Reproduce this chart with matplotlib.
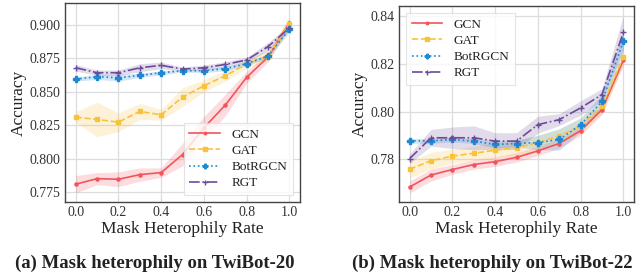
import matplotlib
matplotlib.use("Agg")
import matplotlib.pyplot as plt
import numpy as np

plt.rcParams.update({
    "font.family": ["Liberation Serif", "DejaVu Serif"],
    "axes.edgecolor": "#444444",
    "axes.linewidth": 1.0,
    "xtick.color": "#333333",
    "ytick.color": "#333333",
    "text.color": "#222222",
    "axes.labelcolor": "#222222",
})

rates = [0.0, 0.1, 0.2, 0.3, 0.4, 0.5, 0.6, 0.7, 0.8, 0.9, 1.0]
models = ["GCN", "GAT", "BotRGCN", "RGT"]

# TwiBot-20
t20_gcn = [0.7808, 0.7850, 0.7845, 0.7880, 0.7895, 0.8030, 0.8230, 0.8400, 0.8608, 0.8760, 0.9018]
t20_gat = [0.8310, 0.8293, 0.8273, 0.8353, 0.8328, 0.8460, 0.8545, 0.8620, 0.8708, 0.8770, 0.9008]
t20_bot = [0.8595, 0.8613, 0.8605, 0.8623, 0.8643, 0.8658, 0.8658, 0.8673, 0.8710, 0.8768, 0.8968]
t20_rgt = [0.8680, 0.8643, 0.8643, 0.8680, 0.8698, 0.8670, 0.8680, 0.8705, 0.8738, 0.8838, 0.8978]
t20_gcn_sd = [0.0065, 0.0045, 0.0055, 0.0050, 0.0035, 0.0085, 0.0085, 0.0080, 0.0045, 0.0035, 0.0030]
t20_gat_sd = [0.0040, 0.0130, 0.0070, 0.0060, 0.0040, 0.0070, 0.0045, 0.0040, 0.0030, 0.0040, 0.0050]
t20_bot_sd = [0.0015, 0.0020, 0.0025, 0.0015, 0.0015, 0.0010, 0.0015, 0.0015, 0.0015, 0.0015, 0.0020]
t20_rgt_sd = [0.0025, 0.0020, 0.0020, 0.0030, 0.0025, 0.0015, 0.0020, 0.0020, 0.0020, 0.0030, 0.0020]

# TwiBot-22
t22_gcn = [0.7684, 0.7734, 0.7757, 0.7778, 0.7790, 0.7808, 0.7835, 0.7866, 0.7920, 0.8008, 0.8215]
t22_gat = [0.7758, 0.7794, 0.7813, 0.7825, 0.7838, 0.7848, 0.7870, 0.7897, 0.7940, 0.8022, 0.8228]
t22_bot = [0.7877, 0.7877, 0.7883, 0.7876, 0.7862, 0.7866, 0.7870, 0.7883, 0.7944, 0.8042, 0.8294]
t22_rgt = [0.7803, 0.7890, 0.7890, 0.7890, 0.7876, 0.7876, 0.7945, 0.7966, 0.8015, 0.8071, 0.8331]
t22_gcn_sd = [0.0025, 0.0025, 0.0020, 0.0020, 0.0020, 0.0020, 0.0020, 0.0020, 0.0020, 0.0020, 0.0020]
t22_gat_sd = [0.0035, 0.0035, 0.0030, 0.0030, 0.0030, 0.0030, 0.0030, 0.0030, 0.0030, 0.0030, 0.0030]
t22_bot_sd = [0.0010, 0.0010, 0.0010, 0.0010, 0.0015, 0.0015, 0.0030, 0.0045, 0.0030, 0.0030, 0.0040]
t22_rgt_sd = [0.0020, 0.0035, 0.0045, 0.0050, 0.0035, 0.0035, 0.0035, 0.0025, 0.0030, 0.0025, 0.0070]

colors = ["#F2545B", "#F9C23C", "#1F88D2", "#6B4C9A"]
styles = ["-", "--", ":", "-."]
markers = [".", "s", "P", "+"]
msizes = [4.5, 3.2, 4.2, 4.5]

W, H = 644, 273
fig = plt.figure(figsize=(W / 100, H / 100), dpi=100)


def panel(rect, means, sds, ylim, yticks, yfmt, legloc):
    ax = fig.add_axes(rect)
    ax.grid(True, color="#DDDDDD", linewidth=0.9)
    ax.set_axisbelow(True)
    for m, s, c, ls, mk, ms, name in zip(means, sds, colors, styles, markers, msizes, models):
        m = np.array(m)
        s = np.array(s)
        ax.fill_between(rates, m - s, m + s, color=c, alpha=0.2, linewidth=0)
        ax.plot(rates, m, color=c, ls=ls, marker=mk, ms=ms, lw=1.2, label=name)
    ax.set_xlim(-0.05, 1.05)
    ax.set_ylim(*ylim)
    ax.set_xticks([0.0, 0.2, 0.4, 0.6, 0.8, 1.0])
    ax.set_yticks(yticks)
    ax.set_yticklabels([yfmt.format(v) for v in yticks])
    ax.tick_params(labelsize=10, length=0, pad=3)
    ax.set_xlabel("Mask Heterophily Rate", fontsize=12.5, labelpad=1)
    ax.set_ylabel("Accuracy", fontsize=12.5, labelpad=2)
    leg = ax.legend(loc=legloc, fontsize=9.5, frameon=True, handlelength=2.3,
                    handletextpad=0.9, borderpad=0.45, labelspacing=0.3,
                    fancybox=False, markerscale=0.8)
    leg.get_frame().set_edgecolor("#DDDDDD")
    leg.get_frame().set_linewidth(0.8)
    return ax


panel([65 / W, 1 - 202 / H, 235 / W, 199 / H],
      [t20_gcn, t20_gat, t20_bot, t20_rgt],
      [t20_gcn_sd, t20_gat_sd, t20_bot_sd, t20_rgt_sd],
      (0.7675, 0.9165), [0.775, 0.800, 0.825, 0.850, 0.875, 0.900], "{:.3f}",
      "lower right")
panel([399 / W, 1 - 202 / H, 235 / W, 196 / H],
      [t22_gcn, t22_gat, t22_bot, t22_rgt],
      [t22_gcn_sd, t22_gat_sd, t22_bot_sd, t22_rgt_sd],
      (0.7621, 0.8442), [0.78, 0.80, 0.82, 0.84], "{:.2f}",
      "upper left")

fig.text(155 / W, 1 - 263 / H, "(a) Mask heterophily on TwiBot-20", ha="center",
         va="center", fontsize=13.5, fontweight="bold")
fig.text(492 / W, 1 - 263 / H, "(b) Mask heterophily on TwiBot-22", ha="center",
         va="center", fontsize=13.5, fontweight="bold")

fig.savefig("out.png", dpi=100)
